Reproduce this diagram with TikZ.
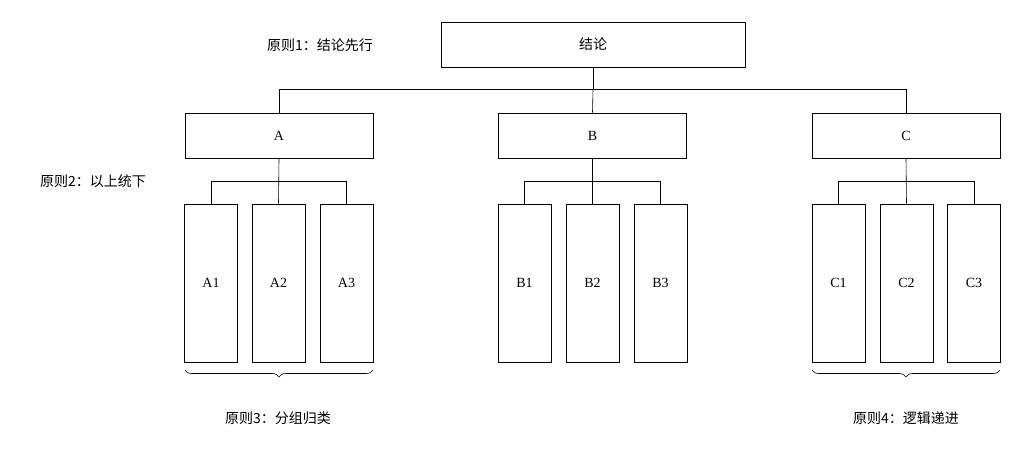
\documentclass[tikz,border=0pt]{standalone}
\usepackage{fontspec}
\setmainfont{Liberation Serif}
\newfontfamily\cjk{Noto Sans CJK SC}
\usetikzlibrary{decorations.pathreplacing,calc}
\begin{document}
\begin{tikzpicture}[x=1pt,y=-1pt,
  box/.style={draw,line width=0.7pt,minimum width=#1,inner sep=0pt,font=\fontsize{14}{16}\selectfont},
  lbl/.style={font=\cjk\fontsize{14}{16}\selectfont},
  ln/.style={line width=0.6pt},
  brc/.style={line width=0.6pt,decorate,decoration={brace,mirror,amplitude=7pt}}]
\useasboundingbox (0,0) rectangle (1017,450);
\node[box=304pt,minimum height=45pt,font=\cjk\fontsize{14}{16}\selectfont] (top) at (593,44.5) {结论};
\foreach \n/\x in {A/279,B/592.5,C/906}{
  \node[box=188pt,minimum height=45pt] (\n) at (\x,135.5) {\n};
}
\foreach \n/\x in {A1/211,A2/278.5,A3/346.5,B1/524.5,B2/592.5,B3/660.5,C1/838.5,C2/906.5,C3/974}{
  \node[box=53pt,minimum height=158pt] (\n) at (\x,283) {\n};
}
\coordinate (h1) at (593,89);
\draw[ln] (top.south) -- (h1);
\draw[ln] (A.north) |- (C.north |- h1) -- (C.north);
\draw[ln] (h1) -- (B.north);
\foreach \p/\a/\b/\c in {A/A1/A2/A3,B/B1/B2/B3,C/C1/C2/C3}{
  \coordinate (m\p) at ($(\p.south)!0.5!(\p.south |- \a.north)$);
  \draw[ln] (\p.south) -- (\b.north);
  \draw[ln] (\a.north) |- (\c.north |- m\p) -- (\c.north);
}
\coordinate (ba1) at (185,370); \coordinate (ba2) at (373,370);
\coordinate (bc1) at (812,370); \coordinate (bc2) at (1000,370);
\draw[brc] (ba1) -- (ba2);
\draw[brc] (bc1) -- (bc2);
\node[lbl] (p1) at (320,45) {原则1：结论先行};
\node[lbl] (p2) at (93,181) {原则2：以上统下};
\node[lbl] (p3) at (278,418) {原则3：分组归类};
\node[lbl] (p4) at (906,418) {原则4：逻辑递进};
\end{tikzpicture}
\end{document}
